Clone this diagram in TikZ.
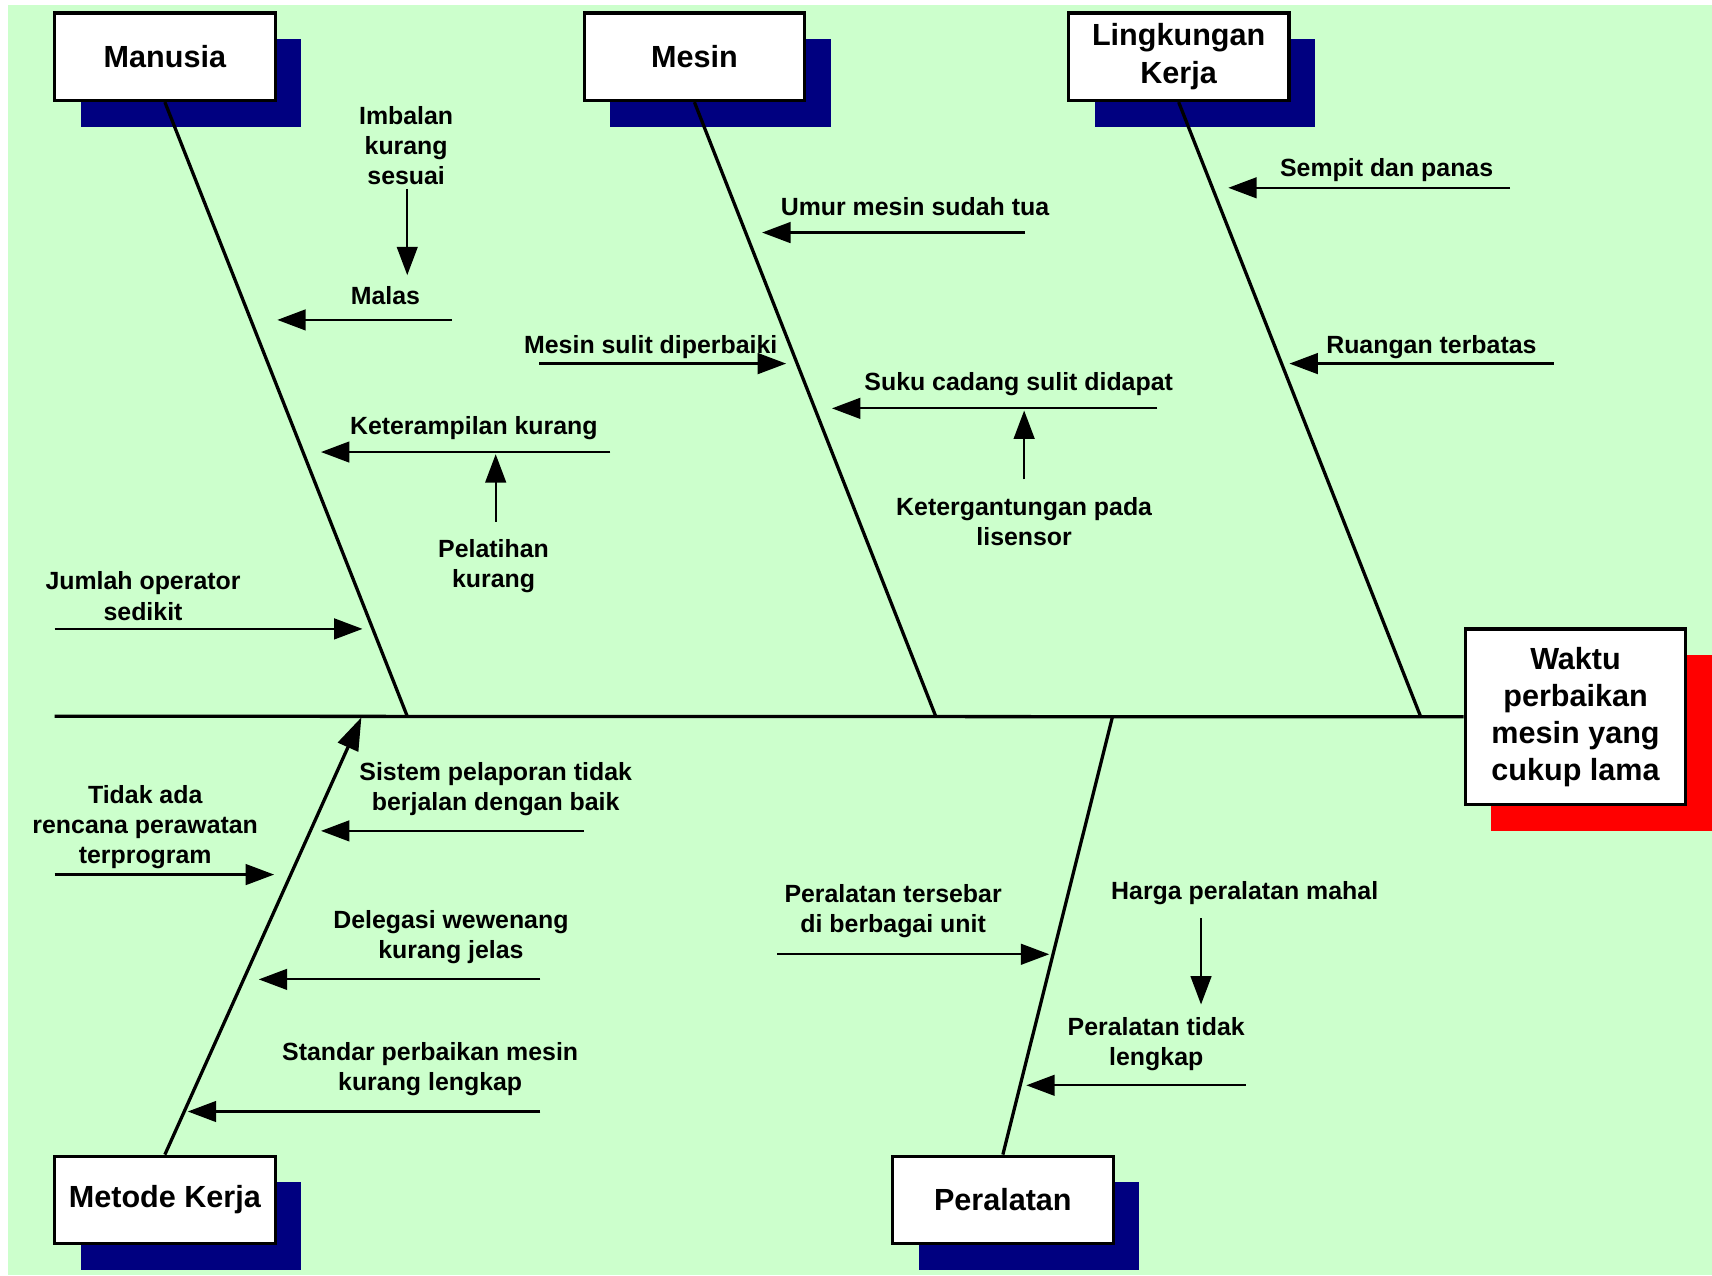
\documentclass[tikz,border=0pt]{standalone}
\usepackage{fontspec}
\setmainfont{Liberation Sans}
\usetikzlibrary{arrows.meta,shadows}
\definecolor{bggreen}{RGB}{204,255,204}
\definecolor{navyshade}{RGB}{0,0,128}
\definecolor{redshade}{RGB}{255,0,0}

\begin{document}
\begin{tikzpicture}[x=0.5pt,y=-0.5pt,
  catbox/.style={draw=black, line width=1.5pt, fill=white,
    minimum width=101pt, minimum height=40pt, inner sep=0pt,
    font=\fontsize{14}{17.5}\selectfont\bfseries, align=center,
    drop shadow={shadow xshift=12pt, shadow yshift=-12pt,
      fill=navyshade, opacity=1, draw=none}},
  effbox/.style={catbox, minimum height=80.5pt,
    font=\fontsize{14}{17}\selectfont\bfseries,
    drop shadow={shadow xshift=12pt, shadow yshift=-12pt,
      fill=redshade, opacity=1, draw=none}},
  lbl/.style={font=\fontsize{11.4}{13.8}\selectfont\bfseries,
    align=center, inner sep=0pt, yshift=-0.75pt},
  bone/.style={line width=1.5pt, draw=black},
  cause/.style={line width=1pt, draw=black,
    -{Triangle[length=13pt,width=9.5pt]}},
]
% canvas
\useasboundingbox (0,0) rectangle (1568,1168);
\fill[white] (0,0) rectangle (1568,1168);
\fill[bggreen] (7,5) rectangle (1568,1168);

% category boxes and effect box
\node[catbox] (man) at (151,52) {Manusia};
\node[catbox] (mes) at (636,52) {Mesin};
\node[catbox] (lin) at (1079.5,52) {Lingkungan\\Kerja};
\node[catbox] (met) at (151,1099) {Metode Kerja};
\node[catbox] (per) at (918.5,1099) {Peralatan};
\node[effbox] (eff) at (1443,656.5) {Waktu\\perbaikan\\mesin yang\\cukup lama};

% spine and main bones
\coordinate (tail) at (50,656);
\coordinate (jman) at (373,656);
\coordinate (jmes) at (857,656);
\coordinate (jlin) at (1301,656);
\coordinate (jmet) at (331,657);
\coordinate (jper) at (1019,656);
\draw[bone] (tail) -- (eff.west);
\draw[bone] (man.south) -- (jman);
\draw[bone] (mes.south) -- (jmes);
\draw[bone] (lin.south) -- (jlin);
\draw[bone, -{Triangle[length=15pt,width=10pt]}] (met.north) -- (jmet);
\draw[bone] (per.north) -- (jper);

% --- Manusia ---
\node[lbl] (imb) at (372,132) {Imbalan\\kurang\\sesuai};
\node[lbl] (malas) at (353,269.5) {Malas};
\node[lbl] (ket) at (434,390.5) {Keterampilan kurang};
\node[lbl] (pel) at (452,517) {Pelatihan\\kurang};
\node[lbl] (jum) at (131,544.5) {Jumlah operator\\sedikit};
\coordinate (imbA) at (373,173); \coordinate (imbB) at (373,252);
\coordinate (malA) at (414,293); \coordinate (malB) at (254,293);
\coordinate (ketA) at (559,414); \coordinate (ketB) at (294,414);
\coordinate (pelA) at (454,478); \coordinate (pelB) at (454,416);
\coordinate (jumA) at (50,576);  \coordinate (jumB) at (332,576);
\draw[cause] (imbA) -- (imbB);
\draw[cause] (malA) -- (malB);
\draw[cause] (ketA) -- (ketB);
\draw[cause] (pelA) -- (pelB);
\draw[cause] (jumA) -- (jumB);

% --- Mesin ---
\node[lbl] (umur) at (838,187.5) {Umur mesin sudah tua};
\node[lbl] (msd) at (596,316) {Mesin sulit diperbaiki};
\node[lbl] (suku) at (933,350.5) {Suku cadang sulit didapat};
\node[lbl] (ketg) at (938,476) {Ketergantungan pada\\lisensor};
\coordinate (umA) at (939,213);  \coordinate (umB) at (698,213);
\coordinate (msA) at (494,333);  \coordinate (msB) at (720,333);
\coordinate (skA) at (1060,374); \coordinate (skB) at (762,374);
\coordinate (kgA) at (938,439);  \coordinate (kgB) at (938,376);
\draw[cause] (umA) -- (umB);
\draw[cause] (msA) -- (msB);
\draw[cause] (skA) -- (skB);
\draw[cause] (kgA) -- (kgB);

% --- Lingkungan Kerja ---
\node[lbl] (semp) at (1270,154.5) {Sempit dan panas};
\node[lbl] (ruang) at (1311,316) {Ruangan terbatas};
\coordinate (spA) at (1383,172); \coordinate (spB) at (1125,172);
\coordinate (rtA) at (1423,333); \coordinate (rtB) at (1181,333);
\draw[cause] (spA) -- (spB);
\draw[cause] (rtA) -- (rtB);

% --- Metode Kerja ---
\node[lbl] (sist) at (454,721) {Sistem pelaporan tidak\\berjalan dengan baik};
\node[lbl] (tidak) at (133,756) {Tidak ada\\rencana perawatan\\terprogram};
\node[lbl] (deleg) at (413,857) {Delegasi wewenang\\kurang jelas};
\node[lbl] (stand) at (394,978) {Standar perbaikan mesin\\kurang lengkap};
\coordinate (siA) at (535,761);  \coordinate (siB) at (294,761);
\coordinate (tdA) at (50,801);   \coordinate (tdB) at (251,801);
\coordinate (dlA) at (495,897);  \coordinate (dlB) at (237,897);
\coordinate (stA) at (495,1018); \coordinate (stB) at (172,1018);
\draw[cause] (siA) -- (siB);
\draw[cause] (tdA) -- (tdB);
\draw[cause] (dlA) -- (dlB);
\draw[cause] (stA) -- (stB);

% --- Peralatan ---
\node[lbl] (tsb) at (818,833) {Peralatan tersebar\\di berbagai unit};
\node[lbl] (harga) at (1140,816.5) {Harga peralatan mahal};
\node[lbl] (tlk) at (1059,955) {Peralatan tidak\\lengkap};
\coordinate (tsA) at (712,874);  \coordinate (tsB) at (961,874);
\coordinate (hgA) at (1100,841); \coordinate (hgB) at (1100,920);
\coordinate (tlA) at (1141,994); \coordinate (tlB) at (940,994);
\draw[cause] (tsA) -- (tsB);
\draw[cause] (hgA) -- (hgB);
\draw[cause] (tlA) -- (tlB);
\end{tikzpicture}
\end{document}
